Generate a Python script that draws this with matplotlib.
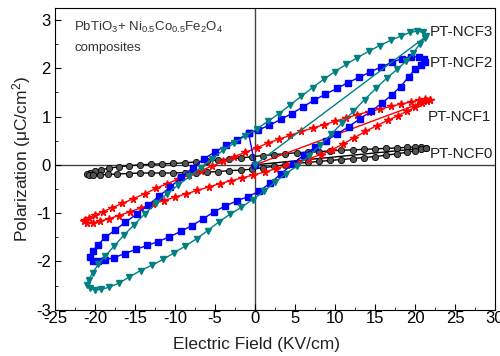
import matplotlib
matplotlib.use("Agg")
import matplotlib.pyplot as plt
from matplotlib.ticker import MultipleLocator

plt.rcParams['font.family'] = ['Liberation Sans', 'DejaVu Sans']
plt.rcParams['mathtext.fontset'] = 'custom'
plt.rcParams['mathtext.rm'] = 'Liberation Sans'
plt.rcParams['mathtext.it'] = 'Liberation Sans'
plt.rcParams['axes.unicode_minus'] = False

# PT-NCF3: origin -> tip, upper branch (right to left), lower branch (left to right)
e3 = [0.0, 21.4,
      21.0, 20.3, 19.4, 18.3, 17.0, 15.6, 14.2, 12.8, 11.4, 10.0, 8.6, 7.2, 5.8, 4.4,
      3.0, 1.6, 0.2, -1.2, -2.6, -4.0, -5.4, -6.8, -8.2, -9.6, -11.0, -12.4, -13.8,
      -15.1, -16.4, -17.6, -18.7, -19.6, -20.3, -20.8, -21.0, -20.6, -20.0,
      -19.2, -18.2, -17.0, -15.7, -14.3, -12.9, -11.5, -10.1, -8.7, -7.3, -5.9, -4.5,
      -3.1, -1.7, -0.3, 1.1, 2.5, 3.9, 5.3, 6.7, 8.1, 9.5, 10.9, 12.3, 13.7, 15.1,
      16.5, 17.8, 18.9, 19.8, 20.6, 21.2]
p3 = [0.0, 2.66,
      2.74, 2.77, 2.74, 2.67, 2.58, 2.47, 2.35, 2.22, 2.08, 1.93, 1.77, 1.60, 1.42, 1.24,
      1.06, 0.90, 0.74, 0.60, 0.45, 0.30, 0.12, -0.06, -0.24, -0.42, -0.60, -0.80, -1.02,
      -1.24, -1.46, -1.68, -1.88, -2.06, -2.24, -2.38, -2.48, -2.56, -2.59,
      -2.58, -2.53, -2.45, -2.32, -2.19, -2.08, -1.96, -1.82, -1.68, -1.53, -1.36, -1.18,
      -1.02, -0.88, -0.72, -0.55, -0.36, -0.18, -0.02, 0.18, 0.40, 0.63, 0.87, 1.11, 1.35, 1.58,
      1.80, 1.98, 2.15, 2.32, 2.50, 2.62]

# PT-NCF2: origin -> upper branch near 0, down to the left tip, lower branch, upper back to 0
e2 = [0.0, -0.8, -2.2, -3.6, -5.0, -6.4, -7.8, -9.2, -10.6, -12.0, -13.4, -14.8, -16.2,
      -17.5, -18.7, -19.6, -20.3, -20.6, -20.3, -19.6,
      -18.7, -17.6, -16.3, -14.9, -13.5, -12.1, -10.7, -9.3, -7.9, -6.5, -5.1, -3.7,
      -2.3, -0.9, 0.5, 1.9, 3.3, 4.7, 6.1, 7.5, 8.9, 10.3, 11.7, 13.1, 14.5, 15.9,
      17.1, 18.2, 19.2, 20.0, 20.7, 21.2,
      21.1, 20.5, 19.5, 18.4, 17.1, 15.8, 14.4, 13.0, 11.6, 10.2, 8.8, 7.4, 6.0, 4.6,
      3.2, 1.8, 0.4, -0.8]
p2 = [0.0, 0.65, 0.52, 0.40, 0.27, 0.12, -0.06, -0.26, -0.46, -0.65, -0.84, -1.02, -1.19,
      -1.35, -1.50, -1.65, -1.79, -1.91, -1.99, -2.00,
      -1.97, -1.92, -1.84, -1.75, -1.67, -1.59, -1.49, -1.38, -1.26, -1.12, -0.97, -0.85,
      -0.75, -0.66, -0.55, -0.38, -0.18, 0.02, 0.20, 0.36, 0.50, 0.64, 0.79, 0.95, 1.11, 1.28,
      1.45, 1.62, 1.82, 1.98, 2.07, 2.13,
      2.19, 2.23, 2.24, 2.20, 2.12, 2.03, 1.92, 1.81, 1.70, 1.58, 1.46, 1.34, 1.20, 1.06,
      0.94, 0.82, 0.72, 0.65]

# PT-NCF1
e1 = [0.0, 21.9,
      21.3, 20.5, 19.5, 18.3, 17.0, 15.6, 14.2, 12.8, 11.4, 10.0, 8.6, 7.2, 5.8, 4.4,
      3.0, 1.6, 0.2, -1.2, -2.6, -4.0, -5.4, -6.8, -8.2, -9.6, -11.0, -12.4, -13.8,
      -15.2, -16.6, -17.9, -19.0, -20.0, -20.8, -21.3, -21.4, -21.0, -20.3,
      -19.4, -18.3, -17.0, -15.6, -14.2, -12.8, -11.4, -10.0, -8.6, -7.2, -5.8, -4.4,
      -3.0, -1.6, -0.2, 1.2, 2.6, 4.0, 5.4, 6.8, 8.2, 9.6, 11.0, 12.4, 13.8, 15.2,
      16.6, 17.9, 19.0, 20.0, 20.9, 21.5, 21.9]
p1 = [0.0, 1.35,
      1.36, 1.34, 1.30, 1.26, 1.21, 1.15, 1.10, 1.04, 0.97, 0.90, 0.83, 0.76, 0.69, 0.61,
      0.53, 0.45, 0.35, 0.26, 0.17, 0.07, -0.03, -0.12, -0.21, -0.30, -0.39, -0.49, -0.60,
      -0.70, -0.80, -0.89, -0.97, -1.04, -1.10, -1.14, -1.17, -1.20, -1.20,
      -1.17, -1.12, -1.05, -0.97, -0.89, -0.81, -0.74, -0.67, -0.60, -0.53, -0.46, -0.39,
      -0.33, -0.27, -0.21, -0.15, -0.08, -0.01, 0.06, 0.13, 0.21, 0.31, 0.43, 0.56, 0.69, 0.81,
      0.92, 1.02, 1.11, 1.19, 1.27, 1.32, 1.35]

# PT-NCF0
e0 = [0.0, 21.4,
      20.8, 20.0, 19.0, 17.8, 16.4, 15.0, 13.6, 12.2, 10.8, 9.4, 8.0, 6.6, 5.2, 3.8,
      2.4, 1.0, -0.4, -1.8, -3.2, -4.6, -6.0, -7.4, -8.8, -10.2, -11.6, -13.0, -14.4,
      -15.8, -17.0, -18.2, -19.2, -20.0, -20.6, -21.0, -20.8, -20.2,
      -19.4, -18.4, -17.2, -15.8, -14.4, -13.0, -11.6, -10.2, -8.8, -7.4, -6.0, -4.6,
      -3.2, -1.8, -0.4, 1.0, 2.4, 3.8, 5.2, 6.6, 8.0, 9.4, 10.8, 12.2, 13.6, 15.0,
      16.4, 17.8, 19.0, 20.0, 20.8, 21.4]
p0 = [0.0, 0.35,
      0.37, 0.37, 0.36, 0.35, 0.34, 0.33, 0.32, 0.31, 0.30, 0.29, 0.27, 0.26, 0.25, 0.23,
      0.21, 0.19, 0.17, 0.14, 0.12, 0.10, 0.08, 0.06, 0.04, 0.03, 0.02, 0.01, 0.00,
      -0.02, -0.04, -0.07, -0.10, -0.13, -0.16, -0.19, -0.21, -0.22,
      -0.21, -0.20, -0.19, -0.18, -0.17, -0.17, -0.17, -0.17, -0.16, -0.16, -0.15, -0.14,
      -0.12, -0.11, -0.09, -0.06, -0.03, 0.00, 0.03, 0.05, 0.07, 0.09, 0.11, 0.13, 0.15, 0.17,
      0.20, 0.23, 0.26, 0.29, 0.32, 0.35]

labels = ['PT-NCF3', 'PT-NCF2', 'PT-NCF1', 'PT-NCF0']
label_x = [21.9, 21.9, 21.6, 21.9]
label_y = [2.75, 2.10, 0.99, 0.22]

fig, ax = plt.subplots(figsize=(5.0, 3.56), dpi=100)
fig.subplots_adjust(left=0.11, right=0.99, bottom=0.13, top=0.978)

ax.axhline(0, color='#444444', lw=1.0, zorder=1)
ax.axvline(0, color='#444444', lw=1.0, zorder=1)

ax.plot(e0, p0, color='black', lw=1.0, marker='o', ms=4.5, mfc='#555555', mec='black', mew=0.6)
ax.plot(e1, p1, color='red', lw=1.0, marker='*', ms=5.5, mec='red')
ax.plot(e2, p2, color='blue', lw=1.0, marker='s', ms=4, mec='blue')
ax.plot(e3, p3, color='#008080', lw=1.0, marker='v', ms=4.5, mec='#008080')

for t, x, y in zip(labels, label_x, label_y):
    ax.text(x, y, t, fontsize=11, va='center', ha='left', color='#222222')

ax.text(-22.6, 2.84, r'PbTiO$_3$+ Ni$_{0.5}$Co$_{0.5}$Fe$_2$O$_4$', fontsize=9.5,
        va='center', ha='left', color='#333333')
ax.text(-22.6, 2.42, 'composites', fontsize=9.5, va='center', ha='left', color='#333333')

ax.set_xlim(-25, 30)
ax.set_ylim(-3, 3.25)
ax.xaxis.set_major_locator(MultipleLocator(5))
ax.xaxis.set_minor_locator(MultipleLocator(2.5))
ax.yaxis.set_major_locator(MultipleLocator(1))
ax.yaxis.set_minor_locator(MultipleLocator(0.5))
ax.tick_params(which='both', direction='in', top=False, right=False, labelsize=12)
ax.tick_params(which='major', length=4)
ax.tick_params(which='minor', length=2.5)
ax.tick_params(axis='x', pad=1)
ax.tick_params(axis='y', pad=3)

ax.set_xlabel('Electric Field (KV/cm)', fontsize=12.5, labelpad=2, color='#222222')
ax.xaxis.set_label_coords(0.457, -0.092)
ax.set_ylabel(r'Polarization ($\mathrm{\mu}$C/cm$^2$)', fontsize=12.5, labelpad=2, color='#222222')

fig.savefig('out.png', dpi=100)
